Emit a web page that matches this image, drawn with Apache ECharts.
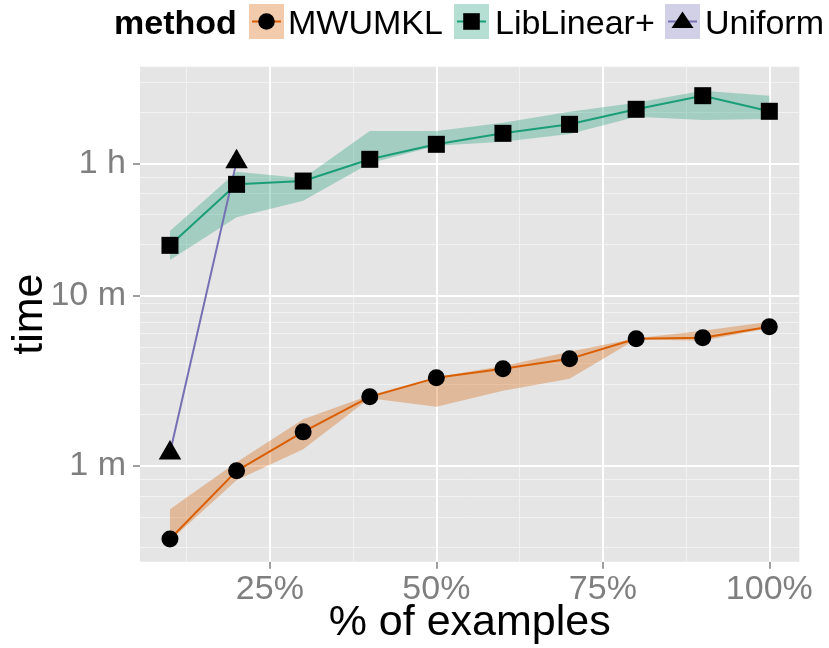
<!DOCTYPE html>
<html><head><meta charset="utf-8">
<script src="https://cdn.jsdelivr.net/npm/echarts@6.0.0/dist/echarts.min.js"></script>
<style>html,body{margin:0;padding:0;background:#fff}#c{width:829px;height:648px}</style>
</head><body><div id="c"></div>
<script>
// ---- data (time in seconds) ----
const xPct = [10, 20, 30, 40, 50, 60, 70, 80, 90, 100];
const mwumklMean = [22.3, 56.1, 95.1, 152.8, 197.6, 223.3, 255.6, 335.2, 339.8, 394.3];
const mwumklLow  = [21.8, 49.4, 75.2, 150, 133.4, 165.7, 195, 333, 326, 388];
const mwumklHigh = [33.4, 63.1, 113, 156, 200, 231.6, 281, 338, 373.5, 421.9];
const libMean = [1188, 2713, 2837, 3807, 4665, 5413, 6115, 7494, 9010, 7294];
const libLow  = [973, 1735, 2173, 3606, 4577, 4832, 5362, 6778, 6482, 6571];
const libHigh = [1441, 3218, 2943, 5585, 5585, 6248, 7255, 8194, 9641, 9010];
const uniformX = [10, 20];
const uniformMean = [71.6, 3690];

const yTickValues = [60, 600, 3600];
const yTickLabels = ['1 m', '10 m', '1 h'];
const xTickValues = [25, 50, 75, 100];
const xMinorGrid = [12.5, 37.5, 62.5, 87.5];
const yMinorGrid = [20, 30, 40, 50, 120, 180, 240, 300, 360, 420, 480, 540, 1200, 1800, 2400, 3000, 7200, 10800];
const xRange = [5.5, 104.5];
const yRange = [16.4, 13340];

const methods = ['MWUMKL', 'LibLinear+', 'Uniform'];
const lineColors = ['#D95F02', '#1B9E77', '#7570B3'];
const fillColors = ['rgba(217,95,2,0.33)', 'rgba(27,158,119,0.33)', 'rgba(117,112,179,0.33)'];

const FONT = '"Liberation Sans", Arial, Helvetica, sans-serif';
const chart = echarts.init(document.getElementById('c'));

const pairs = (xs, ys) => xs.map((x, i) => [x, ys[i]]);

function ribbon(name, low, high, color) {
  return {
    type: 'custom', name, xAxisIndex: 0, yAxisIndex: 0, z: 2, silent: true,
    data: [[xPct[0], low[0]]], encode: { x: 0, y: 1 }, clip: true,
    renderItem(params, api) {
      const pts = [];
      for (let i = 0; i < xPct.length; i++) pts.push(api.coord([xPct[i], high[i]]));
      for (let i = xPct.length - 1; i >= 0; i--) pts.push(api.coord([xPct[i], low[i]]));
      return { type: 'polygon', shape: { points: pts }, style: { fill: color } };
    }
  };
}
function line(name, xs, ys, color) {
  return { type: 'line', name, data: pairs(xs, ys), z: 3, silent: true, symbol: 'none',
    lineStyle: { color, width: 2 }, xAxisIndex: 0, yAxisIndex: 0 };
}
function points(name, xs, ys, symbol, size, offset) {
  return { type: 'scatter', name, data: pairs(xs, ys), z: 4, silent: true, symbol,
    symbolSize: size, symbolOffset: offset || [0, 0], itemStyle: { color: '#000', opacity: 1 },
    xAxisIndex: 0, yAxisIndex: 0 };
}

const minorStyle = { color: '#F2F2F2', width: 1, type: 'solid' };
const majorStyle = { color: '#FFFFFF', width: 2, type: 'solid' };
const gridLines = {
  type: 'line', data: [[50, 100]], z: 1, silent: true, showSymbol: false,
  lineStyle: { opacity: 0 }, xAxisIndex: 0, yAxisIndex: 0,
  markLine: {
    z: 1, silent: true, symbol: ['none', 'none'], label: { show: false }, animation: false,
    lineStyle: { type: 'solid' },
    data: [
      ...yMinorGrid.map(v => ({ yAxis: v, lineStyle: minorStyle })),
      ...xMinorGrid.map(v => ({ xAxis: v, lineStyle: minorStyle })),
      ...yTickValues.map(v => ({ yAxis: v, lineStyle: majorStyle })),
      ...xTickValues.map(v => ({ xAxis: v, lineStyle: majorStyle }))
    ]
  }
};

// legend graphics
const boxX = [249, 454, 665], textX = [288, 495, 705];
const legendG = [];
legendG.push({ type: 'text', style: { text: 'method', x: 114, y: 24.3, font: 'bold 34px ' + FONT, fill: '#000', verticalAlign: 'middle', align: 'left' } });
methods.forEach((m, i) => {
  const bx = boxX[i], cx = bx + 17.5, cy = 21.5;
  legendG.push({ type: 'rect', shape: { x: bx, y: 4, width: 35, height: 35 }, style: { fill: fillColors[i] } });
  legendG.push({ type: 'line', shape: { x1: bx + 3, y1: cy, x2: bx + 32, y2: cy }, style: { stroke: lineColors[i], lineWidth: 2 } });
  if (i === 0) legendG.push({ type: 'circle', shape: { cx, cy, r: 8.3 }, style: { fill: '#000' } });
  if (i === 1) legendG.push({ type: 'rect', shape: { x: cx - 8.3, y: cy - 8.3, width: 16.6, height: 16.6 }, style: { fill: '#000' } });
  if (i === 2) legendG.push({ type: 'polygon', shape: { points: [[cx, cy - 10], [cx + 11, cy + 6.5], [cx - 11, cy + 6.5]] }, style: { fill: '#000' } });
  legendG.push({ type: 'text', style: { text: m, x: textX[i], y: 24.3, font: '34px ' + FONT, fill: '#000', verticalAlign: 'middle', align: 'left' } });
});
legendG.forEach(g => { g.silent = true; });

chart.setOption({
  animation: false,
  backgroundColor: '#fff',
  grid: { left: 140, right: 29.7, top: 66.7, bottom: 86.3, show: true, backgroundColor: '#E5E5E5', borderWidth: 0, containLabel: false, outerBoundsMode: 'none' },
  xAxis: [{
    type: 'value', min: xRange[0], max: xRange[1],
    name: '% of examples', nameLocation: 'middle', nameGap: 40, nameMoveOverlap: false,
    nameTextStyle: { fontSize: 43, color: '#000', fontFamily: FONT },
    axisLine: { show: false },
    axisTick: { show: true, length: 7, customValues: xTickValues, lineStyle: { color: '#7F7F7F', width: 1.5 } },
    axisLabel: { customValues: xTickValues, formatter: v => v + '%', margin: 11, fontSize: 34, color: '#7F7F7F', fontFamily: FONT },
    splitLine: { show: false }
  }],
  yAxis: [{
    type: 'log', logBase: 10, min: yRange[0], max: yRange[1], position: 'left',
    axisLine: { show: false }, axisTick: { show: false }, axisLabel: { show: false }, splitLine: { show: false }, minorSplitLine: { show: false }
  }, {
    type: 'value', min: Math.log10(yRange[0]), max: Math.log10(yRange[1]), position: 'left', gridIndex: 0,
    name: 'time', nameLocation: 'middle', nameGap: 88, nameMoveOverlap: false,
    nameTextStyle: { fontSize: 43, color: '#000', fontFamily: FONT },
    axisLine: { show: false },
    axisTick: { show: true, length: 7, customValues: yTickValues.map(Math.log10), lineStyle: { color: '#7F7F7F', width: 1.5 } },
    axisLabel: {
      customValues: yTickValues.map(Math.log10), margin: 14, fontSize: 34, color: '#7F7F7F', fontFamily: FONT,
      formatter: v => { const i = yTickValues.findIndex(t => Math.abs(Math.log10(t) - v) < 1e-6); return i >= 0 ? yTickLabels[i] : ''; }
    },
    splitLine: { show: false }
  }],
  graphic: legendG,
  series: [
    gridLines,
    ribbon('MWUMKL band', mwumklLow, mwumklHigh, fillColors[0]),
    ribbon('LibLinear+ band', libLow, libHigh, fillColors[1]),
    line('MWUMKL', xPct, mwumklMean, lineColors[0]),
    line('LibLinear+', xPct, libMean, lineColors[1]),
    line('Uniform', uniformX, uniformMean, lineColors[2]),
    points('MWUMKL pts', xPct, mwumklMean, 'circle', 17),
    points('LibLinear+ pts', xPct, libMean, 'rect', 17),
    points('Uniform pts', uniformX, uniformMean, 'triangle', [22.5, 19.5], [0, -3.2])
  ]
});
</script></body></html>
